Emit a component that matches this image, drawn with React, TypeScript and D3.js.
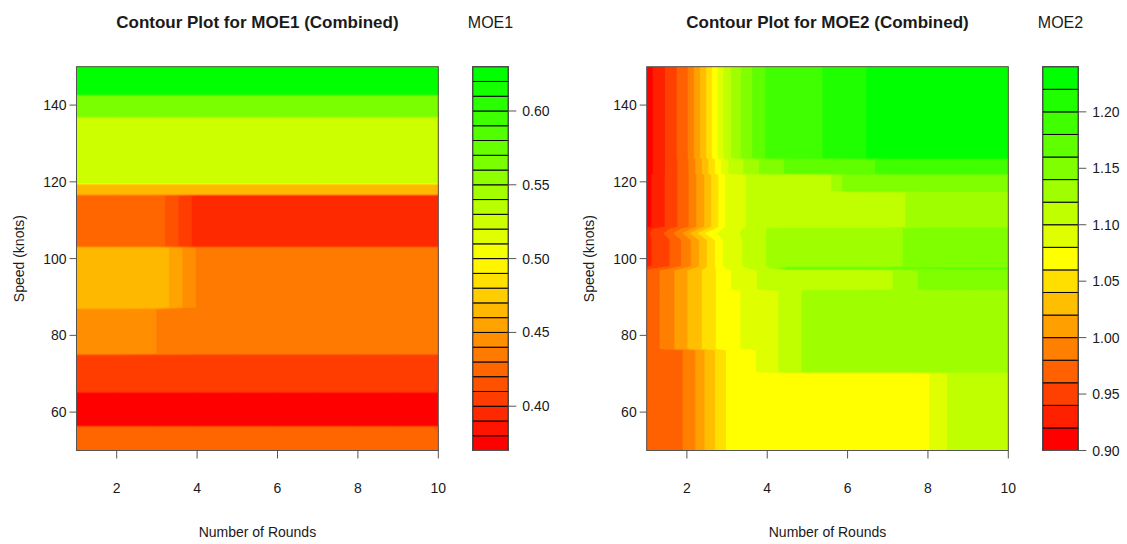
import React from "react";
import * as d3 from "d3";

// ---------- shared axes ----------
const roundTicks = [2, 4, 6, 8, 10];
const speedTicks = [60, 80, 100, 120, 140];
const roundDomain = [1, 10];
const speedDomain = [50, 150];
const paletteStops = ["#ff0000", "#ffff00", "#00ff00"];

// ---------- MOE1 ----------
const moe1Rounds = [1, 2, 3, 4, 5, 6, 7, 8, 9, 10];
const moe1Speeds = [50, 56.0, 56.6, 64.8, 65.4, 74.7, 75.3, 86.7, 87.3, 102.7, 103.3, 116.3, 116.9, 119.2, 119.8, 136.6, 137.2, 142.4, 143.0, 150];
const moe1Bottom = [0.425, 0.425, 0.425, 0.425, 0.425, 0.425, 0.425, 0.425, 0.425, 0.425];
const moe1Red = [0.375, 0.375, 0.375, 0.375, 0.375, 0.375, 0.375, 0.375, 0.375, 0.375];
const moe1RedOrange = [0.405, 0.405, 0.405, 0.405, 0.405, 0.405, 0.405, 0.405, 0.405, 0.405];
const moe1Orange = [0.446, 0.446, 0.4399, 0.435, 0.435, 0.435, 0.435, 0.435, 0.435, 0.435];
const moe1Box = [0.469, 0.469, 0.469, 0.439, 0.439, 0.439, 0.439, 0.439, 0.439, 0.439];
const moe1Band = [0.426, 0.426, 0.426, 0.396, 0.396, 0.396, 0.396, 0.396, 0.396, 0.396];
const moe1Amber = [0.465, 0.465, 0.465, 0.465, 0.465, 0.465, 0.465, 0.465, 0.465, 0.465];
const moe1YellowGreen = [0.528, 0.528, 0.528, 0.528, 0.528, 0.528, 0.528, 0.528, 0.528, 0.528];
const moe1LightGreen = [0.565, 0.565, 0.565, 0.565, 0.565, 0.565, 0.565, 0.565, 0.565, 0.565];
const moe1Green = [0.625, 0.625, 0.625, 0.625, 0.625, 0.625, 0.625, 0.625, 0.625, 0.625];
const moe1Rows = [
  moe1Bottom, moe1Bottom, moe1Red, moe1Red, moe1RedOrange, moe1RedOrange,
  moe1Orange, moe1Orange, moe1Box, moe1Box, moe1Band, moe1Band,
  moe1Amber, moe1Amber, moe1YellowGreen, moe1YellowGreen,
  moe1LightGreen, moe1LightGreen, moe1Green, moe1Green,
];
const moe1Levels = [0.37, 0.38, 0.39, 0.40, 0.41, 0.42, 0.43, 0.44, 0.45, 0.46, 0.47, 0.48, 0.49, 0.50, 0.51, 0.52, 0.53, 0.54, 0.55, 0.56, 0.57, 0.58, 0.59, 0.60, 0.61, 0.62, 0.63];
const moe1KeyTicks = [0.40, 0.45, 0.50, 0.55, 0.60];

// ---------- MOE2 ----------
const moe2Rounds = [1, 1.5, 2, 2.5, 3, 3.5, 4, 4.5, 5, 5.5, 6, 6.5, 7, 7.5, 8, 8.5, 9, 9.5, 10];
const moe2Speeds = [50, 70.1, 70.5, 76.1, 76.5, 91.6, 92.0, 96.9, 97.5, 98.1, 104.8, 106.6, 107.8, 108.3, 117.2, 117.7, 121.8, 122.2, 125.8, 126.3, 150];
const moe2Top = [0.910, 0.943, 0.977, 1.042, 1.112, 1.152, 1.183, 1.188, 1.194, 1.202, 1.206, 1.221, 1.232, 1.232, 1.232, 1.232, 1.232, 1.232, 1.232];
const moe2Upper = [0.910, 0.943, 0.975, 1.035, 1.098, 1.125, 1.150, 1.162, 1.165, 1.168, 1.172, 1.177, 1.185, 1.190, 1.190, 1.190, 1.190, 1.190, 1.190];
const moe2Band120 = [0.913, 0.943, 0.975, 1.027, 1.085, 1.101, 1.105, 1.108, 1.110, 1.113, 1.150, 1.152, 1.152, 1.152, 1.152, 1.152, 1.152, 1.152, 1.152];
const moe2Band112 = [0.913, 0.943, 0.975, 1.027, 1.085, 1.101, 1.105, 1.108, 1.110, 1.110, 1.110, 1.110, 1.112, 1.121, 1.130, 1.130, 1.130, 1.130, 1.130];
const moe2Notch = [0.935, 0.965, 1.010, 1.065, 1.095, 1.103, 1.121, 1.125, 1.125, 1.125, 1.125, 1.125, 1.125, 1.145, 1.148, 1.148, 1.148, 1.148, 1.148];
const moe2Band102 = [0.935, 0.955, 0.990, 1.040, 1.090, 1.103, 1.121, 1.125, 1.125, 1.125, 1.125, 1.125, 1.125, 1.145, 1.148, 1.148, 1.148, 1.148, 1.148];
const moe2Seam = [0.950, 0.972, 1.005, 1.043, 1.083, 1.100, 1.115, 1.165, 1.165, 1.165, 1.165, 1.165, 1.165, 1.165, 1.165, 1.165, 1.165, 1.165, 1.165];
const moe2Band95 = [0.965, 0.988, 1.019, 1.047, 1.076, 1.095, 1.105, 1.110, 1.110, 1.110, 1.110, 1.110, 1.115, 1.135, 1.145, 1.150, 1.150, 1.150, 1.150];
const moe2Band85 = [0.965, 0.988, 1.019, 1.047, 1.076, 1.082, 1.090, 1.108, 1.125, 1.130, 1.130, 1.130, 1.130, 1.130, 1.130, 1.130, 1.130, 1.130, 1.130];
const moe2Band73 = [0.965, 0.972, 0.982, 1.025, 1.062, 1.072, 1.090, 1.108, 1.125, 1.130, 1.130, 1.130, 1.130, 1.130, 1.130, 1.130, 1.130, 1.130, 1.130];
const moe2Bottom = [0.965, 0.972, 0.982, 1.025, 1.062, 1.070, 1.070, 1.070, 1.070, 1.070, 1.070, 1.070, 1.070, 1.070, 1.078, 1.101, 1.110, 1.110, 1.110];
const moe2Rows = [
  moe2Bottom, moe2Bottom, moe2Band73, moe2Band73, moe2Band85, moe2Band85,
  moe2Band95, moe2Band95, moe2Seam, moe2Band102, moe2Band102, moe2Notch, moe2Band102,
  moe2Band112, moe2Band112, moe2Band120, moe2Band120, moe2Upper, moe2Upper, moe2Top, moe2Top,
];
const moe2Levels = [0.90, 0.92, 0.94, 0.96, 0.98, 1.00, 1.02, 1.04, 1.06, 1.08, 1.10, 1.12, 1.14, 1.16, 1.18, 1.20, 1.22, 1.24];
const moe2KeyTicks = [0.90, 0.95, 1.00, 1.05, 1.10, 1.15, 1.20];

const FONT = "'Liberation Sans', Arial, Helvetica, sans-serif";
const TEXT = "#1a1a1a";
const FRAME = "#555";

const clamp = (v: number, lo: number, hi: number) => Math.max(lo, Math.min(hi, v));
function interpAt(arr: number[], t: number) {
  const i = Math.floor(t);
  if (i >= arr.length - 1) return arr[arr.length - 1];
  const f = t - i;
  return arr[i] + f * (arr[i + 1] - arr[i]);
}

type PanelProps = {
  title: string;
  keyTitle: string;
  left: number;
  right: number;
  top: number;
  bottom: number;
  keyLeft: number;
  keyRight: number;
  xs: number[];
  ys: number[];
  rows: number[][];
  levels: number[];
  keyTicks: number[];
};

function Panel(p: PanelProps) {
  const { xs, ys, rows, levels } = p;
  const nx = xs.length;
  const ny = ys.length;
  const values = rows.flat();
  const ramp = d3.piecewise(d3.interpolateRgb, paletteStops);
  const nb = levels.length - 1;
  const colors = d3.range(nb).map((i) => ramp(i / (nb - 1)));

  const xScale = d3.scaleLinear().domain(roundDomain).range([p.left, p.right]);
  const yScale = d3.scaleLinear().domain(speedDomain).range([p.bottom, p.top]);
  const keyScale = d3.scaleLinear().domain([levels[0], levels[nb]]).range([p.bottom, p.top]);

  const gen = d3.contours().size([nx, ny]).smooth(true).thresholds(levels.slice(0, nb));
  const geoms = gen(values);

  const toPath = (coords: number[][][][]) =>
    coords
      .map((poly) =>
        poly
          .map((ring) =>
            ring
              .map(([u, v], k) => {
                const dx = interpAt(xs, clamp(u - 0.5, 0, nx - 1));
                const dy = interpAt(ys, clamp(v - 0.5, 0, ny - 1));
                return (k ? "L" : "M") + xScale(dx).toFixed(2) + "," + yScale(dy).toFixed(2);
              })
              .join("") + "Z"
          )
          .join("")
      )
      .join("");

  const cx = (p.left + p.right) / 2;
  const cy = (p.top + p.bottom) / 2;
  const clipId = "clip-" + p.keyTitle;

  return (
    <g>
      <defs>
        <clipPath id={clipId}>
          <rect x={p.left} y={p.top} width={p.right - p.left} height={p.bottom - p.top} />
        </clipPath>
      </defs>
      <g clipPath={`url(#${clipId})`}>
        {geoms.map((g, i) => (
          <path key={i} d={toPath(g.coordinates as any)} fill={colors[i]} stroke={colors[i]} strokeWidth={0.3} />
        ))}
      </g>
      <rect x={p.left} y={p.top} width={p.right - p.left} height={p.bottom - p.top} fill="none" stroke={FRAME} strokeWidth={1} />
      {roundTicks.map((t) => (
        <g key={"x" + t}>
          <line x1={xScale(t)} x2={xScale(t)} y1={p.bottom} y2={p.bottom + 8} stroke={FRAME} />
          <text x={xScale(t)} y={p.bottom + 42} textAnchor="middle" fontSize={14} fontFamily={FONT} fill={TEXT}>
            {t}
          </text>
        </g>
      ))}
      {speedTicks.map((t) => (
        <g key={"y" + t}>
          <line x1={p.left - 7} x2={p.left} y1={yScale(t)} y2={yScale(t)} stroke={FRAME} />
          <text x={p.left - 10} y={yScale(t)} dy="0.36em" textAnchor="end" fontSize={14} fontFamily={FONT} fill={TEXT}>
            {t}
          </text>
        </g>
      ))}
      <text x={cx} y={p.bottom + 86} textAnchor="middle" fontSize={14} fontFamily={FONT} fill={TEXT}>
        Number of Rounds
      </text>
      <text transform={`translate(${p.left - 53},${cy}) rotate(-90)`} textAnchor="middle" fontSize={14} fontFamily={FONT} fill={TEXT}>
        Speed (knots)
      </text>
      <text x={cx} y={28} textAnchor="middle" fontSize={17} fontWeight="bold" fontFamily={FONT} fill={TEXT}>
        {p.title}
      </text>
      {colors.map((c, i) => (
        <rect
          key={"k" + i}
          x={p.keyLeft}
          y={keyScale(levels[i + 1])}
          width={p.keyRight - p.keyLeft}
          height={keyScale(levels[i]) - keyScale(levels[i + 1])}
          fill={c}
          stroke="#000"
          strokeWidth={1}
        />
      ))}
      <rect x={p.keyLeft} y={p.top} width={p.keyRight - p.keyLeft} height={p.bottom - p.top} fill="none" stroke={FRAME} strokeWidth={1} />
      {p.keyTicks.map((t) => (
        <g key={"kt" + t}>
          <line x1={p.keyRight} x2={p.keyRight + 8} y1={keyScale(t)} y2={keyScale(t)} stroke={FRAME} />
          <text x={p.keyRight + 14} y={keyScale(t)} dy="0.36em" fontSize={14} fontFamily={FONT} fill={TEXT}>
            {t.toFixed(2)}
          </text>
        </g>
      ))}
      <text x={(p.keyLeft + p.keyRight) / 2} y={28} textAnchor="middle" fontSize={16} fontFamily={FONT} fill={TEXT}>
        {p.keyTitle}
      </text>
    </g>
  );
}

export default function App() {
  return (
    <svg
      width={1127}
      height={544}
      viewBox="0 0 1127 544"
      style={{ position: "absolute", left: 0, top: 0, background: "#fff" }}
    >
      <rect x={0} y={0} width={1127} height={544} fill="#fff" />
      <Panel
        title="Contour Plot for MOE1 (Combined)"
        keyTitle="MOE1"
        left={76.5}
        right={438.3}
        top={66.7}
        bottom={450.5}
        keyLeft={472.7}
        keyRight={508.3}
        xs={moe1Rounds}
        ys={moe1Speeds}
        rows={moe1Rows}
        levels={moe1Levels}
        keyTicks={moe1KeyTicks}
      />
      <Panel
        title="Contour Plot for MOE2 (Combined)"
        keyTitle="MOE2"
        left={646.7}
        right={1008.3}
        top={66.7}
        bottom={450.5}
        keyLeft={1042.7}
        keyRight={1078.3}
        xs={moe2Rounds}
        ys={moe2Speeds}
        rows={moe2Rows}
        levels={moe2Levels}
        keyTicks={moe2KeyTicks}
      />
    </svg>
  );
}
